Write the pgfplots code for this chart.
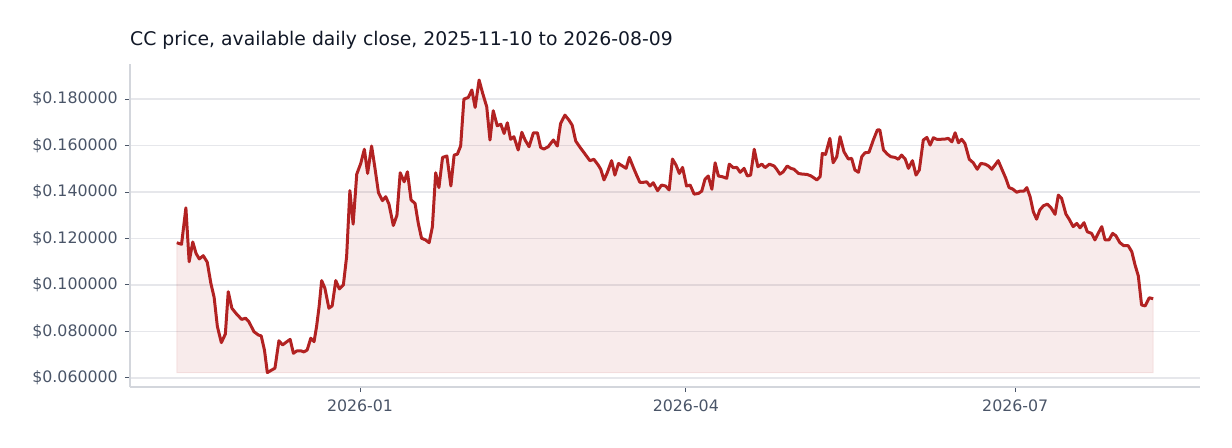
\documentclass[border=0pt]{standalone}
\usepackage{pgfplots}
\pgfplotsset{compat=1.18}
\usepackage{pgfplotstable}
\usepackage{fontspec}
\setmainfont{DejaVu Sans}

\definecolor{linered}{HTML}{B22222}
\definecolor{gridgray}{HTML}{E6E7EB}
\definecolor{axisgray}{HTML}{D3D6DC}
\definecolor{labelgray}{HTML}{4A5568}
\definecolor{titleblack}{HTML}{111827}

% day = days since 2026-01-01, price = daily close in USD
\pgfplotstableread{
day price
-50.6 0.1182
-49.3 0.1175
-48.1 0.1332
-47.2 0.1100
-46.2 0.1185
-45.3 0.1136
-44.4 0.1112
-43.3 0.1126
-42.2 0.1098
-41.2 0.1007
-40.3 0.0947
-39.4 0.0821
-38.3 0.0752
-37.2 0.0789
-36.4 0.0971
-35.4 0.0900
-34.1 0.0875
-32.7 0.0852
-31.6 0.0857
-30.7 0.0842
-29.3 0.0799
-28.1 0.0785
-27.3 0.0781
-26.4 0.0720
-25.6 0.0623
-24.4 0.0634
-23.5 0.0642
-22.4 0.0760
-21.4 0.0742
-20.2 0.0756
-19.3 0.0766
-18.4 0.0706
-17.5 0.0716
-16.4 0.0717
-15.5 0.0712
-14.6 0.0720
-13.6 0.0771
-12.7 0.0756
-12.0 0.0821
-11.3 0.0907
-10.6 0.1019
-9.7 0.0986
-8.6 0.0900
-7.7 0.0910
-6.7 0.1019
-5.7 0.0983
-4.6 0.1000
-3.7 0.1122
-2.8 0.1406
-1.9 0.1262
-0.9 0.1477
0.2 0.1523
1.2 0.1584
2.1 0.1480
3.2 0.1598
4.1 0.1506
5.1 0.1397
6.2 0.1363
7.1 0.1380
8.0 0.1348
9.2 0.1256
10.2 0.1300
11.1 0.1483
12.2 0.1444
13.1 0.1487
14.1 0.1366
15.2 0.1351
16.1 0.1265
17.0 0.1201
18.1 0.1194
19.1 0.1182
20.0 0.1251
20.9 0.1483
21.8 0.1419
22.8 0.1549
24.0 0.1555
25.1 0.1426
26.0 0.1559
26.9 0.1563
27.8 0.1598
28.7 0.1800
29.9 0.1807
30.9 0.1839
31.8 0.1764
32.9 0.1882
33.9 0.1824
35.0 0.1767
35.9 0.1624
36.8 0.1750
37.9 0.1685
38.9 0.1692
39.8 0.1652
40.7 0.1698
41.6 0.1627
42.5 0.1638
43.7 0.1581
44.7 0.1657
45.6 0.1624
46.7 0.1595
47.9 0.1655
49.0 0.1655
49.9 0.1592
50.8 0.1585
52.0 0.1595
53.4 0.1624
54.5 0.1598
55.4 0.1695
56.6 0.1731
57.7 0.1710
58.6 0.1688
59.6 0.1619
60.8 0.1592
61.9 0.1569
63.5 0.1535
64.6 0.1541
65.8 0.1516
66.5 0.1498
67.4 0.1452
68.3 0.1483
69.5 0.1535
70.4 0.1473
71.4 0.1523
72.5 0.1512
73.5 0.1502
74.4 0.1549
75.5 0.1506
76.4 0.1473
77.3 0.1442
78.3 0.1442
79.2 0.1444
80.1 0.1426
81.0 0.1440
82.2 0.1406
83.3 0.1430
84.4 0.1426
85.4 0.1409
86.3 0.1542
87.3 0.1516
88.2 0.1480
89.1 0.1506
90.2 0.1426
91.2 0.1430
92.3 0.1391
93.5 0.1394
94.4 0.1404
95.3 0.1455
96.2 0.1469
97.2 0.1412
98.1 0.1526
99.0 0.1469
100.1 0.1466
101.3 0.1459
102.0 0.1520
103.1 0.1505
104.1 0.1506
105.0 0.1485
106.1 0.1502
107.0 0.1469
107.9 0.1473
108.9 0.1584
109.9 0.1509
111.0 0.1520
111.9 0.1505
113.1 0.1520
114.4 0.1512
115.1 0.1498
116.0 0.1477
116.9 0.1487
118.0 0.1512
119.0 0.1502
119.9 0.1498
121.1 0.1480
122.3 0.1477
123.4 0.1476
124.5 0.1470
125.2 0.1463
126.2 0.1452
127.1 0.1466
127.7 0.1566
128.6 0.1562
129.8 0.1631
130.7 0.1526
131.7 0.1552
132.6 0.1638
133.7 0.1573
134.9 0.1542
135.8 0.1545
136.7 0.1495
137.7 0.1485
138.6 0.1552
139.5 0.1569
140.6 0.1571
141.8 0.1624
142.9 0.1667
143.6 0.1667
144.6 0.1581
145.7 0.1563
146.6 0.1552
147.8 0.1549
148.7 0.1541
149.6 0.1559
150.6 0.1542
151.5 0.1502
152.6 0.1535
153.6 0.1473
154.5 0.1495
155.6 0.1624
156.6 0.1635
157.5 0.1602
158.4 0.1634
159.3 0.1627
160.4 0.1627
161.6 0.1628
162.5 0.1631
163.5 0.1616
164.4 0.1655
165.3 0.1612
166.2 0.1627
167.1 0.1609
168.3 0.1541
169.4 0.1526
170.5 0.1498
171.5 0.1523
172.7 0.1520
173.6 0.1512
174.5 0.1498
175.4 0.1516
176.3 0.1535
177.4 0.1495
178.4 0.1459
179.3 0.1419
180.3 0.1413
181.4 0.1399
182.3 0.1404
183.4 0.1404
184.2 0.1419
185.1 0.1380
186.0 0.1315
186.9 0.1283
187.8 0.1323
188.8 0.1341
189.9 0.1348
190.8 0.1334
192.0 0.1304
192.9 0.1387
193.8 0.1373
195.0 0.1305
195.9 0.1283
197.0 0.1251
198.0 0.1265
198.9 0.1246
200.0 0.1268
200.9 0.1229
202.1 0.1222
203.0 0.1194
203.9 0.1222
204.9 0.1251
205.8 0.1194
206.9 0.1194
207.9 0.1222
208.8 0.1212
209.9 0.1182
211.0 0.1169
212.2 0.1169
213.2 0.1143
214.1 0.1086
215.0 0.1039
215.9 0.0914
216.9 0.0910
218.0 0.0945
219.1 0.0941
}\pricedata

\begin{document}
\begin{tikzpicture}
\path (0bp,0bp) rectangle (1232bp,448bp);
\node[anchor=base west, inner sep=0pt, font=\fontsize{18.8bp}{22bp}\selectfont, text=titleblack]
  at (130bp,402bp) {CC price, available daily close, 2025-11-10 to 2026-08-09};
\begin{axis}[
    at={(130bp,61bp)}, anchor=south west,
    scale only axis,
    width=1070bp, height=323bp,
    xmin=-63.54, xmax=232.04,
    ymin=0.0561, ymax=0.1951,
    axis x line*=bottom, axis y line*=left,
    axis line style={draw=axisgray, line width=1.4bp, -},
    xtick={0,90,181},
    xticklabels={2026-01,2026-04,2026-07},
    ytick={0.06,0.08,0.10,0.12,0.14,0.16,0.18},
    yticklabels={\$0.060000,\$0.080000,\$0.100000,\$0.120000,\$0.140000,\$0.160000,\$0.180000},
    scaled y ticks=false,
    tick align=outside,
    major tick length=5bp,
    tick style={draw=labelgray, line width=1bp},
    ymajorgrids,
    grid style={draw=gridgray, line width=1.2bp},
    ticklabel style={font=\fontsize{15.8bp}{19bp}\selectfont, text=labelgray},
    yticklabel style={inner sep=0pt, xshift=-7bp},
    xticklabel style={inner sep=0pt, yshift=-8bp},
  ]
  \addplot[fill=linered, fill opacity=0.09, draw=linered, draw opacity=0.1, line width=1bp, forget plot]
    table[x=day, y=price] {\pricedata}
    -- (axis cs:219.1,0.0623) -- (axis cs:-50.6,0.0623) -- cycle;
  \addplot[linered, line width=3bp, line join=round] table[x=day, y=price] {\pricedata};
\end{axis}
\end{tikzpicture}
\end{document}
